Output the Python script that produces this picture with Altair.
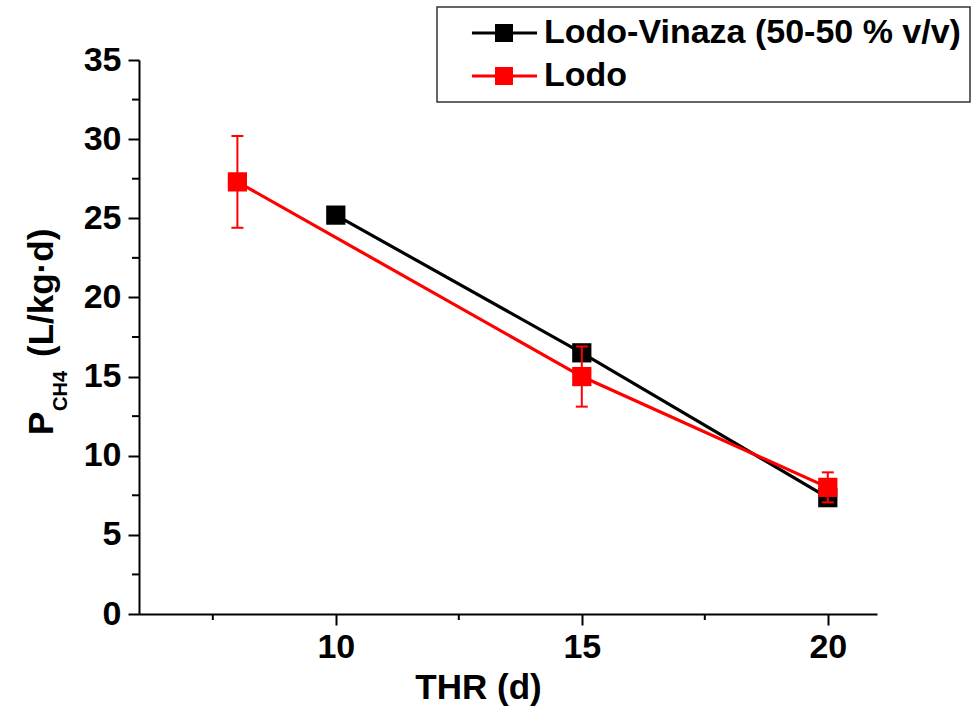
import altair as alt
import pandas as pd

# ---------------- data ----------------
series_names = ["Lodo-Vinaza (50-50 % v/v)", "Lodo"]
series_colors = ["#000000", "#ff0000"]

thr_mix = [10, 15, 20]
pch4_mix = [25.2, 16.5, 7.35]

thr_lodo = [8, 15, 20]
pch4_lodo = [27.3, 15.0, 8.0]
err_lodo = [2.9, 1.9, 0.95]

x_major = [10, 15, 20]
x_minor = [7.5, 12.5, 17.5]
y_major = [0, 5, 10, 15, 20, 25, 30, 35]
y_minor = [2.5, 7.5, 12.5, 17.5, 22.5, 27.5, 32.5]

x_title = "THR (d)"
y_title_parts = ["P", "CH4", "(L/kg·d)"]

# ---------------- tables ----------------
df = pd.DataFrame({
    "thr": thr_mix + thr_lodo,
    "val": pch4_mix + pch4_lodo,
    "series": [series_names[0]] * len(thr_mix) + [series_names[1]] * len(thr_lodo),
})
df_err = pd.DataFrame({
    "thr": thr_lodo,
    "lo": [v - e for v, e in zip(pch4_lodo, err_lodo)],
    "hi": [v + e for v, e in zip(pch4_lodo, err_lodo)],
})
df_caps = pd.DataFrame({
    "thr": thr_lodo + thr_lodo,
    "cap": list(df_err["lo"]) + list(df_err["hi"]),
})

FONT = "Liberation Sans, Arial, Helvetica, sans-serif"
W, H = 738, 554

xscale = alt.Scale(domain=[6, 21], nice=False, zero=False)
yscale = alt.Scale(domain=[0, 35], nice=False, zero=False)
cscale = alt.Scale(domain=series_names, range=series_colors)

xaxis = alt.Axis(
    values=x_major, grid=False, title=x_title,
    domainColor="black", domainWidth=2, tickColor="black", tickWidth=2, tickSize=11,
    labelFont=FONT, labelFontSize=34, labelFontWeight="bold", labelColor="black",
    labelPadding=5, labelFlush=False,
    titleFont=FONT, titleFontSize=35, titleFontWeight="bold", titleColor="black",
    titleX=339, titleY=84, titleBaseline="alphabetic", titleAlign="center",
)
yaxis = alt.Axis(
    values=y_major, grid=False, title=None,
    domainColor="black", domainWidth=2, tickColor="black", tickWidth=2, tickSize=11,
    labelFont=FONT, labelFontSize=34, labelFontWeight="bold", labelColor="black",
    labelPadding=7, labelFlush=False,
)

# legend glyph: line with a filled square in its middle (units of 9 px)
legend_symbol = (
    "M-3.56,-0.17L3.67,-0.17L3.67,0.17L-3.56,0.17Z"
    "M-1,-1L1,-1L1,1L-1,1Z"
)
legend = alt.Legend(
    title=None, orient="none", legendX=298, legendY=-53,
    padding=9, strokeColor="#333333", fillColor="white",
    labelFont=FONT, labelFontSize=34, labelFontWeight="bold", labelColor="black",
    labelLimit=1000, labelOffset=23, rowPadding=9,
    symbolType=legend_symbol, symbolSize=18 * 18, symbolOffset=41,
    symbolStrokeWidth=0, symbolOpacity=1,
)


def X(field):
    return alt.X(field, scale=xscale, axis=xaxis)


def Y(field):
    return alt.Y(field, scale=yscale, axis=yaxis)


line_mix = alt.Chart(df).transform_filter(
    alt.datum.series == series_names[0]
).mark_line(strokeWidth=3.2, color=series_colors[0]).encode(
    x=X("thr:Q"), y=Y("val:Q"), order=alt.Order("thr:Q"),
)
line_lodo = alt.Chart(df).transform_filter(
    alt.datum.series == series_names[1]
).mark_line(strokeWidth=3.2, color=series_colors[1]).encode(
    x=X("thr:Q"), y=Y("val:Q"), order=alt.Order("thr:Q"),
)

squares = alt.Chart(df).mark_square(size=370, opacity=1, filled=True).encode(
    x=X("thr:Q"), y=Y("val:Q"),
    color=alt.Color("series:N", scale=cscale, legend=legend),
)

err_rules = alt.Chart(df_err).mark_rule(color="#ff0000", strokeWidth=2).encode(
    x=X("thr:Q"), y=Y("lo:Q"), y2="hi:Q",
)
err_caps = alt.Chart(df_caps).mark_tick(
    color="#ff0000", orient="horizontal", size=12, thickness=2, opacity=1
).encode(
    x=X("thr:Q"), y=Y("cap:Q"),
)

xminor = alt.Chart(pd.DataFrame({"v": x_minor})).mark_rule(color="black", strokeWidth=2).encode(
    x=X("v:Q"), y=alt.value(H), y2=alt.value(H + 6),
)
yminor = alt.Chart(pd.DataFrame({"v": y_minor})).mark_rule(color="black", strokeWidth=2).encode(
    y=Y("v:Q"), x=alt.value(-7), x2=alt.value(0),
)


def ytext(txt, x, y, size):
    return alt.Chart(pd.DataFrame({"t": [txt]})).mark_text(
        angle=270, align="left", baseline="alphabetic",
        font=FONT, fontSize=size, fontWeight="bold", color="black",
    ).encode(text="t:N", x=alt.value(x), y=alt.value(y))


ytitle = (
    ytext(y_title_parts[0], -86, 375, 35)
    + ytext(y_title_parts[1], -72, 351, 20)
    + ytext(y_title_parts[2], -86, 297, 35)
)

chart = alt.layer(
    line_mix, squares.transform_filter(alt.datum.series == series_names[0]),
    line_lodo, squares.transform_filter(alt.datum.series == series_names[1]),
    err_rules, err_caps, xminor, yminor, ytitle
).properties(
    width=W, height=H,
    autosize=alt.AutoSizeParams(type="none"),
    padding={"left": 139, "top": 60, "right": 103, "bottom": 95},
).configure(font=FONT).configure_view(stroke=None).configure_legend(strokeWidth=1.5)

chart.save("out.html", embed_options={"renderer": "svg", "actions": False})
